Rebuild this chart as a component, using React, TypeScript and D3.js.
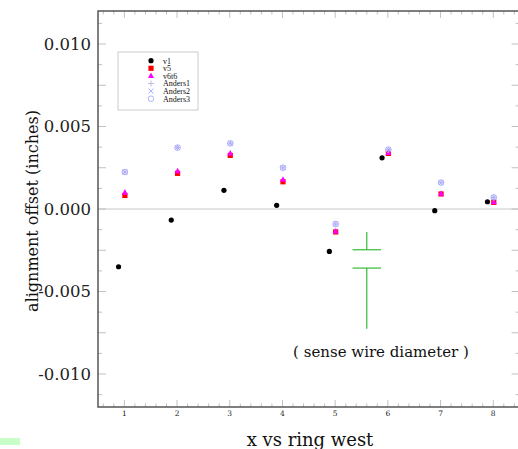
import React from "react";
import * as d3 from "d3";

const rings = [1, 2, 3, 4, 5, 6, 7, 8];
const v1 = [-0.0035, -0.00067, 0.00113, 0.00022, -0.00257, 0.0031, -0.0001, 0.00044];
const v5 = [0.00082, 0.00216, 0.00325, 0.00165, -0.00139, 0.00337, 0.00091, 0.0004];
const v6t6 = [0.001, 0.0023, 0.00337, 0.00178, -0.00135, 0.0034, 0.00093, 0.00042];
const anders1 = [0.00224, 0.00372, 0.00398, 0.0025, -0.00091, 0.0036, 0.0016, 0.0007];
const anders2 = [0.00224, 0.00372, 0.00398, 0.0025, -0.00091, 0.0036, 0.0016, 0.0007];
const anders3 = [0.00224, 0.00372, 0.00398, 0.0025, -0.00091, 0.0036, 0.0016, 0.0007];
const yTickLabels = ["0.010", "0.005", "0.000", "-0.005", "-0.010"];
const yTickValues = [0.01, 0.005, 0, -0.005, -0.01];
const legendNames = ["v1", "v5", "v6t6", "Anders1", "Anders2", "Anders3"];
// sense wire diameter marker: x position, top, gap top, gap bottom, bottom
const wireX = 5.6;
const wireYs = [-0.0014, -0.00247, -0.00358, -0.00725];
const wireHalf = 0.27;

const W = 518, H = 449;
const left = 98, top = 11, bottom = 407, right = 519.6;

export default function App() {
  const x = d3.scaleLinear().domain([0.5, 8.5]).range([left, right]);
  const y = d3.scaleLinear().domain([-0.012, 0.012]).range([bottom, top]);
  const font = "DejaVu Serif";
  const xMinor = d3.range(0.6, 8.5, 0.2);
  const yMinor = d3.range(-0.01125, 0.0121, 0.00125);
  const tickCol = "#c0c0c0";
  const lightBlue = "#a0a0ff";

  const marker = (k: number, cx: number, cy: number, key: string) => {
    switch (k) {
      case 0:
        return <circle key={key} cx={cx} cy={cy} r={2.6} fill="#000" />;
      case 1:
        return <rect key={key} x={cx - 2.6} y={cy - 2.6} width={5.2} height={5.2} fill="#ff0000" />;
      case 2:
        return <path key={key} d={`M${cx},${cy - 3.4}L${cx + 3},${cy + 2.2}L${cx - 3},${cy + 2.2}Z`} fill="#ff00ff" />;
      case 3:
        return <path key={key} d={`M${cx - 3},${cy}H${cx + 3}M${cx},${cy - 3}V${cy + 3}`} stroke="#b0b0e0" strokeWidth={0.8} fill="none" />;
      case 4:
        return <path key={key} d={`M${cx - 2.5},${cy - 2.5}L${cx + 2.5},${cy + 2.5}M${cx - 2.5},${cy + 2.5}L${cx + 2.5},${cy - 2.5}`} stroke={lightBlue} strokeWidth={0.9} fill="none" />;
      default:
        return <circle key={key} cx={cx} cy={cy} r={2.8} stroke={lightBlue} strokeWidth={0.8} fill="none" />;
    }
  };

  const series = [v1, v5, v6t6, anders1, anders2, anders3];
  const offsets = [-0.11, 0.01, 0.01, 0.01, 0.01, 0.01];

  return (
    <svg width={W} height={H} style={{ position: "absolute", left: 0, top: 0, background: "#fff" }}>
      <rect x={0} y={0} width={W} height={H} fill="#fff" />
      <rect x={0} y={438} width={20} height={7} fill="#c8ffc8" />
      {/* zero line */}
      <line x1={left} x2={right} y1={y(0)} y2={y(0)} stroke="#c8c8c8" strokeWidth={1} />
      {/* y ticks left/right */}
      {yMinor.map((v, i) => {
        const major = Math.abs(Math.round(v / 0.0025) * 0.0025 - v) < 1e-7;
        const len = major ? 8 : 4;
        return (
          <g key={"yt" + i}>
            <line x1={left} x2={left + len} y1={y(v)} y2={y(v)} stroke={tickCol} />
            <line x1={right - len} x2={right} y1={y(v)} y2={y(v)} stroke={tickCol} />
          </g>
        );
      })}
      {/* x ticks bottom/top */}
      {xMinor.map((v, i) => {
        const major = Math.abs(Math.round(v) - v) < 1e-6;
        const len = major ? 7 : 3.5;
        return (
          <g key={"xt" + i}>
            <line x1={x(v)} x2={x(v)} y1={bottom} y2={bottom - len} stroke={tickCol} />
            <line x1={x(v)} x2={x(v)} y1={top} y2={top + len} stroke={tickCol} />
          </g>
        );
      })}
      {/* frame */}
      <path d={`M${right},${top}H${left}V${bottom}H${right}`} stroke="#555" strokeWidth={1.5} fill="none" />
      {/* y labels */}
      {yTickValues.map((v, i) => (
        <text key={"yl" + i} x={91} y={y(v)} dy="0.36em" textAnchor="end" fontFamily={font} fontSize={16.5} fill="#222">
          {yTickLabels[i]}
        </text>
      ))}
      {/* x labels */}
      {rings.map((r) => (
        <text key={"xl" + r} x={x(r)} y={416} textAnchor="middle" fontFamily={font} fontSize={7.5} fill="#222">
          {r}
        </text>
      ))}
      <text x={310} y={446} textAnchor="middle" fontFamily={font} fontSize={18} fill="#111">x vs ring west</text>
      <text transform={`translate(38,${211}) rotate(-90)`} textAnchor="middle" fontFamily={font} fontSize={16} fill="#111">
        alignment offset (inches)
      </text>
      {/* data */}
      {series.map((s, k) =>
        s.map((v, i) => marker(k, x(rings[i] + offsets[k]), y(v), `m${k}-${i}`))
      )}
      {/* sense wire diameter */}
      <g stroke="#33bb33" strokeWidth={1.2}>
        <line x1={x(wireX)} x2={x(wireX)} y1={y(wireYs[0])} y2={y(wireYs[1])} />
        <line x1={x(wireX - wireHalf)} x2={x(wireX + wireHalf)} y1={y(wireYs[1])} y2={y(wireYs[1])} />
        <line x1={x(wireX - wireHalf)} x2={x(wireX + wireHalf)} y1={y(wireYs[2])} y2={y(wireYs[2])} />
        <line x1={x(wireX)} x2={x(wireX)} y1={y(wireYs[2])} y2={y(wireYs[3])} />
      </g>
      <text x={381} y={357} textAnchor="middle" fontFamily={font} fontSize={15} fill="#111">( sense wire diameter )</text>
      {/* legend */}
      <rect x={118} y={52} width={80} height={58} fill="#fff" stroke="#ccc" strokeWidth={1} />
      {legendNames.map((n, i) => (
        <g key={"lg" + i}>
          {marker(i, 151, 60.7 + i * 7.6, "lm" + i)}
          <text x={163} y={60.7 + i * 7.6} dy="0.35em" fontFamily="Liberation Serif" fontSize={8} fill="#111">{n}</text>
        </g>
      ))}
    </svg>
  );
}
